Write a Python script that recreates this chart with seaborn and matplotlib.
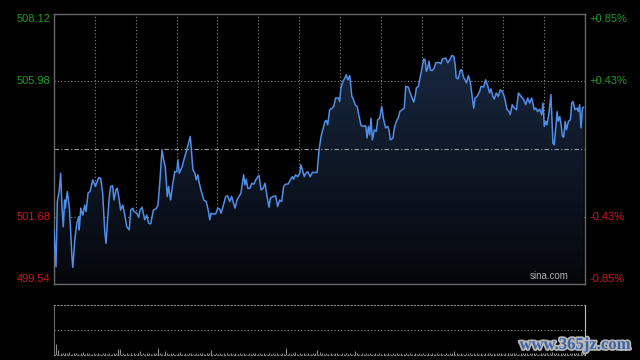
import numpy as np
import pandas as pd
import matplotlib
matplotlib.use('Agg')
import matplotlib.pyplot as plt
import matplotlib.patheffects as pe
from matplotlib.colors import LinearSegmentedColormap
from matplotlib.patches import Polygon
import seaborn as sns

# intraday index, minutes since open (lunch break removed), price
minutes = [
    0.0, 0.9, 1.5, 2.4, 3.0, 3.6, 4.2, 4.8, 5.1, 6.0, 6.9, 7.5, 8.1, 8.5, 9.4, 10.3, 11.2, 11.4, 12.1, 12.7,
    13.0, 13.9, 14.5, 15.4, 16.3, 17.5, 18.1, 18.7, 20.2, 21.1, 22.0, 22.9, 23.5, 24.1, 25.0, 25.6, 26.5, 27.1, 28.0, 28.6,
    29.5, 30.1, 31.1, 32.0, 32.9, 34.0, 34.7, 35.6, 36.2, 37.4, 38.3, 38.9, 39.8, 41.0, 41.9, 42.8, 43.7, 44.9, 46.1, 47.0,
    47.9, 48.8, 49.7, 50.3, 51.2, 51.8, 52.7, 53.7, 54.6, 55.5, 56.0, 56.6, 57.9, 59.1, 60.0, 61.2, 61.6, 62.8, 63.7, 64.3,
    65.0, 65.5, 66.4, 67.7, 68.8, 69.7, 70.4, 71.0, 71.9, 73.1, 74.0, 74.9, 75.5, 76.4, 77.6, 78.5, 79.4, 80.3, 81.8, 82.7,
    83.6, 84.5, 85.7, 86.3, 86.9, 87.6, 88.5, 89.4, 90.3, 91.2, 92.1, 92.7, 93.6, 94.5, 95.4, 96.3, 97.2, 97.8, 99.0, 100.2,
    101.1, 102.0, 102.9, 103.8, 104.7, 105.9, 106.8, 107.7, 108.3, 109.2, 110.2, 111.1, 111.6, 112.5, 113.1, 113.8, 114.7, 115.8, 116.8, 118.9,
    119.8, 120.7, 121.9, 122.5, 123.1, 123.7, 124.6, 125.8, 126.4, 127.3, 128.5, 129.1, 129.7, 130.6, 131.5, 132.1, 132.8, 133.7, 134.6, 135.1,
    136.1, 137.0, 137.9, 138.8, 140.0, 140.9, 141.5, 142.1, 142.7, 143.3, 143.9, 144.8, 145.7, 146.3, 147.2, 148.1, 149.0, 149.9, 150.8, 151.4,
    152.0, 153.2, 153.8, 155.0, 155.6, 156.3, 157.4, 158.3, 159.0, 160.1, 161.0, 161.9, 162.6, 163.2, 163.8, 164.7, 165.6, 166.5, 167.1, 167.7,
    168.3, 168.9, 169.5, 170.1, 171.0, 171.9, 172.5, 174.0, 174.9, 175.5, 177.0, 178.0, 178.9, 179.8, 180.7, 181.3, 181.8, 182.7, 183.6, 184.2,
    185.2, 185.8, 186.4, 187.3, 188.2, 188.8, 189.7, 190.3, 191.2, 192.4, 193.0, 194.2, 195.1, 196.0, 196.9, 197.5, 198.4, 199.0, 199.9, 200.8,
    201.7, 202.6, 203.5, 204.8, 205.7, 206.2, 207.1, 208.1, 209.0, 209.9, 211.1, 212.3, 213.2, 214.1, 215.0, 215.9, 217.1, 217.7, 218.6, 219.5,
    220.4, 221.0, 221.6, 222.3, 222.8, 223.7, 224.6, 225.0, 225.5, 226.1, 226.8, 227.4, 227.9, 228.6, 229.2, 229.8, 230.4, 231.0, 231.6, 232.5,
    233.4, 234.0, 234.6, 235.5, 236.4, 237.0, 237.6, 238.2, 238.8, 239.4,
]
prices = [
    501.26, 500.09, 502.16, 502.53, 503.06, 502.00, 501.36, 502.21, 501.95, 502.48, 502.00, 501.26, 500.41, 500.07, 500.94, 501.47, 501.68, 501.26, 501.95, 501.79,
    501.73, 502.05, 501.84, 502.43, 502.48, 502.85, 502.74, 502.64, 502.92, 502.90, 502.43, 501.26, 500.83, 501.47, 502.32, 502.64, 502.66, 502.21, 502.53, 502.58,
    502.21, 501.89, 502.05, 501.73, 501.36, 501.26, 501.89, 501.95, 501.84, 501.79, 501.66, 501.89, 501.98, 501.58, 501.73, 501.47, 501.45, 501.89, 501.93, 502.05,
    502.85, 503.80, 503.43, 503.27, 502.32, 502.64, 502.21, 502.74, 503.11, 503.11, 503.49, 503.06, 503.27, 503.59, 503.80, 504.12, 504.23, 503.17, 503.06, 502.85,
    503.01, 502.80, 502.53, 502.21, 502.16, 501.89, 501.58, 501.79, 501.76, 501.77, 501.95, 501.92, 501.79, 502.00, 502.32, 502.34, 502.16, 502.32, 501.95, 502.21,
    502.32, 502.43, 503.01, 502.69, 502.87, 502.58, 502.58, 502.74, 502.71, 502.85, 502.95, 502.98, 502.53, 502.58, 502.74, 502.32, 501.98, 502.27, 502.32, 502.34,
    502.00, 502.21, 502.16, 502.64, 502.71, 502.72, 502.85, 502.95, 502.87, 503.01, 502.95, 503.06, 503.33, 503.11, 502.95, 503.06, 503.11, 502.95, 503.09, 503.08,
    503.80, 504.23, 504.55, 504.71, 504.74, 504.60, 505.08, 505.13, 505.18, 505.45, 505.45, 505.34, 505.77, 505.98, 506.09, 506.19, 506.03, 506.16, 505.50, 505.45,
    505.24, 505.18, 504.86, 504.57, 504.55, 504.57, 504.18, 504.55, 504.28, 504.81, 504.12, 504.44, 504.39, 504.76, 504.81, 505.18, 504.76, 504.50, 504.55, 504.44,
    504.12, 504.18, 504.50, 504.76, 504.81, 505.02, 505.08, 505.13, 505.82, 505.80, 505.61, 505.45, 505.32, 505.50, 505.77, 505.82, 506.14, 506.46, 506.69, 506.67,
    506.30, 506.41, 506.62, 506.33, 506.33, 506.41, 506.57, 506.58, 506.54, 506.69, 506.72, 506.57, 506.67, 506.80, 506.78, 506.51, 506.09, 506.06, 506.33, 506.35,
    506.09, 506.03, 505.93, 506.16, 505.93, 505.61, 505.13, 505.45, 505.50, 505.66, 505.82, 505.80, 506.03, 505.84, 505.61, 505.74, 505.50, 505.42, 505.61, 505.50,
    505.71, 505.66, 505.50, 505.08, 505.02, 504.92, 505.24, 505.13, 505.08, 505.61, 505.50, 505.40, 505.24, 505.45, 505.29, 505.45, 505.08, 505.13, 505.02, 505.10,
    504.92, 505.29, 504.55, 504.71, 504.60, 504.97, 505.56, 504.86, 504.02, 503.96, 504.55, 505.02, 504.71, 504.86, 504.60, 504.23, 504.21, 504.71, 504.44, 504.71,
    504.76, 505.29, 505.34, 505.08, 505.13, 505.02, 505.24, 504.50, 505.13, 505.16,
]

# per-minute volume (relative units)
volume = [
    6, 23, 10, 4, 4, 5, 4, 6, 3, 4, 5, 3, 4, 6, 3, 4, 4, 3, 5, 3,
    4, 3, 4, 5, 3, 4, 3, 4, 5, 12, 12, 4, 3, 4, 3, 4, 5, 3, 4, 8,
    4, 3, 5, 4, 3, 4, 5, 15, 4, 3, 8, 4, 3, 4, 5, 3, 4, 6, 3, 4,
    3, 4, 5, 3, 4, 3, 4, 5, 3, 4, 4, 10, 3, 4, 3, 4, 3, 4, 5, 3,
    4, 3, 4, 3, 5, 3, 4, 3, 4, 3, 4, 5, 3, 4, 3, 4, 3, 5, 3, 4,
    3, 4, 3, 4, 3, 14, 4, 3, 4, 6, 3, 4, 3, 4, 3, 4, 3, 4, 4, 10,
    6, 4, 3, 4, 3, 4, 3, 4, 5, 3, 4, 3, 4, 3, 4, 3, 8, 4, 3, 4,
    3, 4, 3, 4, 3, 4, 3, 4, 3, 4, 3, 4, 3, 4, 3, 4, 3, 4, 3, 4,
    3, 4, 3, 4, 3, 4, 3, 4, 3, 4, 3, 4, 3, 4, 3, 4, 3, 4, 3, 4,
    4, 8, 4, 3, 4, 3, 4, 3, 4, 3, 4, 5, 3, 4, 3, 4, 5, 4, 3, 5,
    4, 5, 4, 3, 5, 4, 5, 4, 5, 4, 3, 5, 4, 5, 4, 5, 4, 5, 4, 3,
    5, 4, 5, 4, 5, 6, 4, 5, 4, 5, 4, 5, 4, 5, 4, 5, 4, 5, 6, 5,
    5,
]

prev_close = 503.83
y_min, y_max = 499.54, 508.12
left_labels = ['508.12', '505.98', '501.68', '499.54']
left_values = [508.12, 505.98, 501.68, 499.54]
right_labels = ['+0.85%', '+0.43%', '-0.43%', '-0.85%']
label_colors = ['#1e9e1e', '#1e9e1e', '#d01818', '#d01818']

df = pd.DataFrame({'minute': minutes, 'price': prices})

sns.set_style('dark')
plt.rcParams['font.family'] = ['Liberation Sans', 'DejaVu Sans']

fig = plt.figure(figsize=(6.4, 3.6), dpi=100, facecolor='black')
ax = fig.add_axes([54 / 640, 1 - 284 / 360, 531 / 640, 270 / 360])
ax2 = fig.add_axes([54 / 640, 1 - 355 / 360, 531 / 640, 50 / 360])

# price panel
ax.set_facecolor('black')
ax.set_xlim(0, 240)
ax.set_ylim(y_min, y_max)

# gradient fill under the line
cmap = LinearSegmentedColormap.from_list('fill', ['#05070b', '#1b2c48'])
verts = [(minutes[0], y_min)] + list(zip(minutes, prices)) + [(minutes[-1], y_min)]
poly = Polygon(verts, closed=True, facecolor='none', edgecolor='none')
ax.add_patch(poly)
grad = np.linspace(0, 1, 256).reshape(-1, 1)
im = ax.imshow(grad, extent=[0, 240, y_min, y_max], aspect='auto', cmap=cmap,
               origin='lower', zorder=1)
im.set_clip_path(poly)

sns.lineplot(data=df, x='minute', y='price', ax=ax, color='#4f8fe8', lw=1.1,
             sort=False, zorder=3)

ax.set_xticks(np.linspace(0, 240, 14)[1:-1])
ax.set_yticks([505.98, 501.68])
ax.grid(True, color='#8a8a8a', linestyle=(0, (1, 2)), linewidth=0.8)
ax.axhline(prev_close, color='#9a9a9a', linestyle=(0, (4, 2, 1, 2)), linewidth=0.8, zorder=2)
ax.tick_params(length=0, labelbottom=False, labelleft=False)
ax.set_xlabel('')
ax.set_ylabel('')
for s in ax.spines.values():
    s.set_visible(True)
    s.set_color('#6a6a6a')
    s.set_linewidth(1)

tr = ax.get_yaxis_transform()
for lab, val, rlab, col in zip(left_labels, left_values, right_labels, label_colors):
    va = 'center'
    if val == y_max:
        va = 'top'
    elif val == y_min:
        va = 'bottom'
    ax.text(-0.006, val, lab, transform=tr, ha='right', va=va, color=col, fontsize=8)
    ax.text(1.009, val, rlab, transform=tr, ha='left', va=va, color=col, fontsize=8)

ax.text(0.97, 0.012, 'sina.com', transform=ax.transAxes, ha='right', va='bottom',
        color='#b0b0b0', fontsize=7)

# volume panel
ax2.set_facecolor('black')
ax2.set_xlim(0, 240)
ax2.set_ylim(0, 100)
ax2.vlines(np.arange(len(volume)), 0, volume, color='#8c8c8c', linewidth=0.8)
ax2.axhline(50, color='#8a8a8a', linestyle=(0, (1, 2)), linewidth=0.8)
ax2.set_xticks([])
ax2.set_yticks([])
ax2.grid(False)
for side in ['top', 'bottom']:
    ax2.spines[side].set_color('#8a8a8a')
    ax2.spines[side].set_linestyle((0, (1, 2)))
    ax2.spines[side].set_linewidth(0.8)
ax2.spines['left'].set_color('#6a6a6a')
ax2.spines['right'].set_color('#bdbdbd')

fig.text(575 / 640, 1 - 345 / 360, 'www.365jz.com', ha='center', va='center',
         fontsize=12, fontweight='bold', color='#3d64a6', family='Liberation Serif',
         path_effects=[pe.withStroke(linewidth=2.5, foreground='#b8b8b8')])

fig.savefig('out.png', dpi=100, facecolor='black')
